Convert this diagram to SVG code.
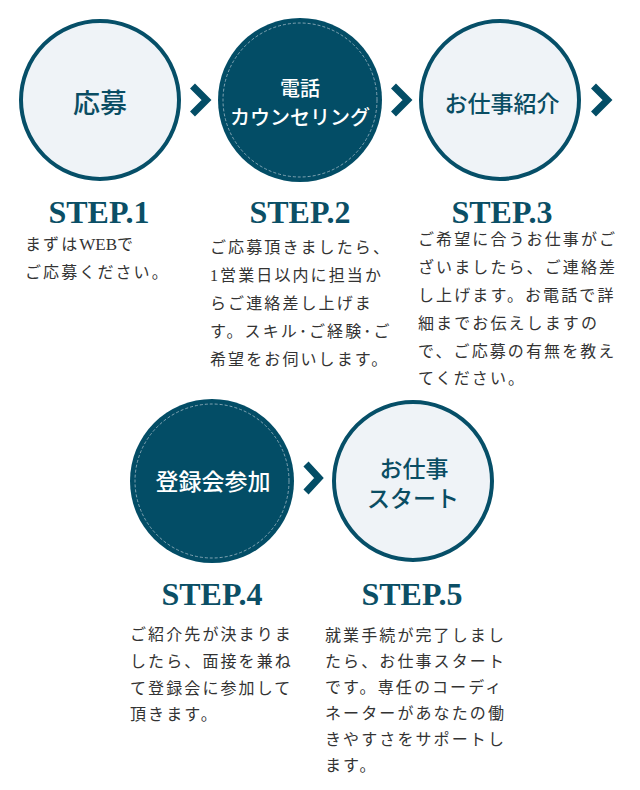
<svg xmlns="http://www.w3.org/2000/svg" width="640" height="790" viewBox="0 0 640 790">
<style>
.light{fill:#eff3f7;stroke:#064f68;stroke-width:4}
.dark{fill:#034d66}
.ring{fill:none;stroke:#9fb8c4;stroke-width:0.8;stroke-dasharray:3 2}
.ct{font-family:"Liberation Serif","Noto Sans CJK JP",serif;font-weight:500;text-anchor:middle}
.ctl{fill:#0a4d63}
.ctd{fill:#ffffff}
.step{font-family:"Liberation Serif",serif;font-weight:bold;font-size:32px;fill:#0b4f66;text-anchor:middle}
.body{font-family:"Liberation Serif","Noto Sans CJK JP",serif;font-size:16px;letter-spacing:2.1px;fill:#333333}
.chev{fill:none;stroke:#034d66;stroke-width:7;stroke-linejoin:miter;stroke-linecap:butt}
</style>
<rect width="640" height="790" fill="#ffffff"/>
<g id="step1">
<circle class="light" cx="100" cy="100" r="79"/>
<text class="ct ctl" x="100" y="113" font-size="27">応募</text>
<text class="step" x="99" y="223">STEP.1</text>
<text class="body" x="25" y="250">まずは<tspan font-size="17" letter-spacing="0">WEB</tspan>で</text>
<text class="body" x="25" y="278">ご応募ください。</text>
</g>
<g id="step2">
<circle class="dark" cx="300" cy="100" r="82"/>
<circle class="ring" cx="300" cy="100" r="77"/>
<text class="ct ctd" x="300" y="96" font-size="20">電話</text>
<text class="ct ctd" x="300" y="125" font-size="20">カウンセリング</text>
<text class="step" x="300" y="223">STEP.2</text>
<text class="body" x="210" y="253">ご応募頂きましたら、</text>
<text class="body" x="210" y="281">1営業日以内に担当か</text>
<text class="body" x="210" y="309">らご連絡差し上げま</text>
<text class="body" x="210" y="337">す。スキル･ご経験･ご</text>
<text class="body" x="210" y="365">希望をお伺いします。</text>
</g>
<g id="step3">
<circle class="light" cx="500" cy="100" r="79"/>
<text class="ct ctl" x="502" y="112" font-size="23">お仕事紹介</text>
<text class="step" x="502" y="223">STEP.3</text>
<text class="body" x="418" y="245">ご希望に合うお仕事がご</text>
<text class="body" x="418" y="273">ざいましたら、ご連絡差</text>
<text class="body" x="418" y="301">し上げます。お電話で詳</text>
<text class="body" x="418" y="329">細までお伝えしますの</text>
<text class="body" x="418" y="357">で、ご応募の有無を教え</text>
<text class="body" x="418" y="384">てください。</text>
</g>
<g id="step4">
<circle class="dark" cx="212" cy="481" r="82"/>
<circle class="ring" cx="212" cy="481" r="77"/>
<text class="ct ctd" x="213" y="490" font-size="23">登録会参加</text>
<text class="step" x="212" y="605">STEP.4</text>
<text class="body" x="130" y="640">ご紹介先が決まりま</text>
<text class="body" x="130" y="667">したら、面接を兼ね</text>
<text class="body" x="130" y="694">て登録会に参加して</text>
<text class="body" x="130" y="720">頂きます。</text>
</g>
<g id="step5">
<circle class="light" cx="413" cy="481" r="79"/>
<text class="ct ctl" x="414" y="477" font-size="23">お仕事</text>
<text class="ct ctl" x="413" y="507" font-size="23">スタート</text>
<text class="step" x="412" y="605">STEP.5</text>
<text class="body" x="325" y="641">就業手続が完了しまし</text>
<text class="body" x="325" y="667">たら、お仕事スタート</text>
<text class="body" x="325" y="693">です。専任のコーディ</text>
<text class="body" x="325" y="719">ネーターがあなたの働</text>
<text class="body" x="325" y="745">きやすさをサポートし</text>
<text class="body" x="325" y="771">ます。</text>
</g>
<g id="connectors">
<polyline class="chev" points="192.5,86 206.5,100 192.5,114"/>
<polyline class="chev" points="393.5,86 407.5,100 393.5,114"/>
<polyline class="chev" points="593.5,86 607.5,100 593.5,114"/>
<polyline class="chev" points="306,464 319,478 306,492"/>
</g>
</svg>
